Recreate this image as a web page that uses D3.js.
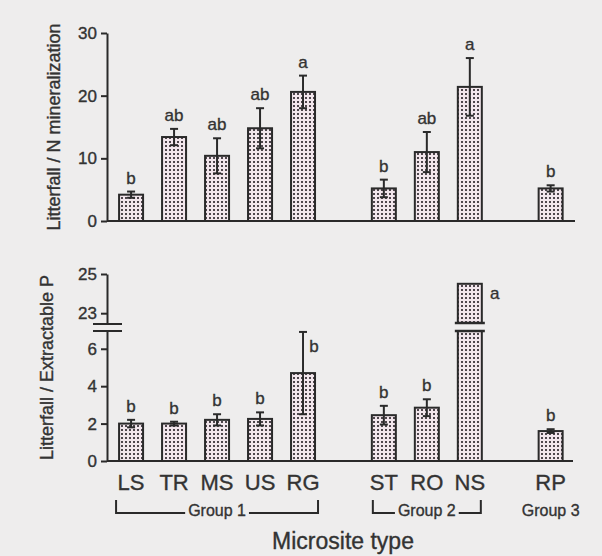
<!DOCTYPE html>
<html>
<head>
<meta charset="utf-8">
<script src="https://cdn.jsdelivr.net/npm/d3@7"></script>
<style>
  body { margin: 0; background: #eeeded; }
  svg { display: block; font-family: "Liberation Sans", Arial, sans-serif; }
  svg text { stroke: #333; stroke-width: 0.35px; }
</style>
</head>
<body>
<svg id="chart" width="602" height="556"></svg>
<script>
// data
var sites      = ["LS", "TR", "MS", "US", "RG", "ST", "RO", "NS", "RP"];
var siteGroup  = [0, 0, 0, 0, 0, 1, 1, 1, 2];
var groupNames = ["Group 1", "Group 2", "Group 3"];

var nRatio   = [4.2, 13.4, 10.4, 14.8, 20.6, 5.2, 11.0, 21.4, 5.2];
var nErr     = [0.5, 1.3, 2.8, 3.2, 2.6, 1.4, 3.2, 4.6, 0.5];
var nLetters = ["b", "ab", "ab", "ab", "a", "b", "ab", "a", "b"];

var pRatio   = [2.0, 2.0, 2.2, 2.25, 4.7, 2.45, 2.85, 24.5, 1.6];
var pErr     = [0.2, 0.1, 0.3, 0.35, 2.2, 0.5, 0.45, 0, 0.1];
var pLetters = ["b", "b", "b", "b", "b", "b", "b", "a", "b"];

var nTicks   = [0, 10, 20, 30];
var pTicksLo = [0, 2, 4, 6];
var pTicksHi = [23, 25];

var ink = "#2a2a2a", txt = "#333";
var svg = d3.select("#chart");

// pattern for the dotted bars
var pat = svg.append("defs").append("pattern")
    .attr("id", "dots").attr("patternUnits", "userSpaceOnUse")
    .attr("width", 4).attr("height", 4);
pat.append("rect").attr("width", 4).attr("height", 4).attr("fill", "#f2e6ec");
pat.append("rect").attr("x", 1).attr("y", 1).attr("width", 2).attr("height", 2).attr("fill", "#4e464c");

var groupGap = 0.88, barW = 24;
function pos(i) { return i + siteGroup[i] * groupGap; }

var x = d3.scaleLinear().domain([-0.56, 10.28]).range([107, 573]);
var rows = sites.map(function(s, i) {
  return {site: s, i: i, cx: x(pos(i)),
          n: nRatio[i], ne: nErr[i], nl: nLetters[i],
          p: pRatio[i], pe: pErr[i], pl: pLetters[i]};
});

function styleAxis(g) {
  g.selectAll("path, line").attr("stroke", ink).attr("stroke-width", 2);
  g.selectAll("text").attr("fill", txt).attr("font-size", 17)
      .attr("font-family", "Liberation Sans, Arial, sans-serif");
}

function errBar(g, cx, y0, y1) {
  g.append("line").attr("x1", cx).attr("x2", cx).attr("y1", y0).attr("y2", y1)
      .attr("stroke", ink).attr("stroke-width", 2);
  [y0, y1].forEach(function(yy) {
    g.append("line").attr("x1", cx - 4).attr("x2", cx + 4).attr("y1", yy).attr("y2", yy)
        .attr("stroke", ink).attr("stroke-width", 2);
  });
}

function letter(g, xx, yy, t) {
  g.append("text").attr("x", xx).attr("y", yy).attr("text-anchor", "middle")
      .attr("font-size", 17).attr("fill", txt).text(t);
}

// ---------- top panel: litterfall / N mineralization ----------
var yN = d3.scaleLinear().domain([0, 30]).range([221, 33]);
var topG = svg.append("g");

topG.append("g").attr("transform", "translate(107,0)")
    .call(d3.axisLeft(yN).tickValues(nTicks).tickSize(6).tickSizeOuter(0).tickPadding(4))
    .call(styleAxis);
topG.append("line").attr("x1", x.range()[0]).attr("x2", x.range()[1] + 2)
    .attr("y1", yN(0)).attr("y2", yN(0)).attr("stroke", ink).attr("stroke-width", 2);

rows.forEach(function(d) {
  topG.append("rect").attr("x", d.cx - barW / 2).attr("y", yN(d.n))
      .attr("width", barW).attr("height", yN(0) - yN(d.n))
      .attr("fill", "url(#dots)").attr("stroke", ink).attr("stroke-width", 2);
  errBar(topG, d.cx, yN(d.n + d.ne), yN(d.n - d.ne));
  letter(topG, d.cx, yN(d.n + d.ne) - 8, d.nl);
});

topG.append("text").attr("transform", "translate(60," + ((yN(0) + yN(30)) / 2) + ") rotate(-90)")
    .attr("text-anchor", "middle").attr("font-size", 18).attr("fill", txt)
    .text("Litterfall / N mineralization");

// ---------- bottom panel: litterfall / extractable P (broken axis) ----------
var yLo = d3.scaleLinear().domain([0, 6.95]).range([461, 331]);
var yHi = d3.scaleLinear().domain([22.5, 25]).range([323, 274]);
var botG = svg.append("g");

botG.append("g").attr("transform", "translate(107,0)")
    .call(d3.axisLeft(yLo).tickValues(pTicksLo).tickFormat(d3.format("d"))
        .tickSize(6).tickSizeOuter(0).tickPadding(4))
    .call(styleAxis);
botG.append("g").attr("transform", "translate(107,0)")
    .call(d3.axisLeft(yHi).tickValues(pTicksHi).tickFormat(d3.format("d"))
        .tickSize(6).tickSizeOuter(0).tickPadding(4))
    .call(styleAxis);
[yHi.range()[0] + 1, yLo.range()[1]].forEach(function(yy) {
  botG.append("line").attr("x1", 93).attr("x2", 122).attr("y1", yy).attr("y2", yy)
      .attr("stroke", ink).attr("stroke-width", 2);
});
botG.append("line").attr("x1", x.range()[0]).attr("x2", x.range()[1])
    .attr("y1", yLo(0)).attr("y2", yLo(0)).attr("stroke", ink).attr("stroke-width", 2);

rows.forEach(function(d) {
  var broken = d.p > yLo.domain()[1];
  var loTop = broken ? yLo.domain()[1] : d.p;
  botG.append("rect").attr("x", d.cx - barW / 2).attr("y", yLo(loTop))
      .attr("width", barW).attr("height", yLo(0) - yLo(loTop))
      .attr("fill", "url(#dots)").attr("stroke", ink).attr("stroke-width", 2);
  if (broken) {
    botG.append("rect").attr("x", d.cx - barW / 2).attr("y", yHi(d.p))
        .attr("width", barW).attr("height", yHi.range()[0] - yHi(d.p))
        .attr("fill", "url(#dots)").attr("stroke", ink).attr("stroke-width", 2);
    [yHi.range()[0], yLo.range()[1]].forEach(function(yy) {
      botG.append("line").attr("x1", d.cx - barW / 2 - 3).attr("x2", d.cx + barW / 2 + 3)
          .attr("y1", yy).attr("y2", yy).attr("stroke", ink).attr("stroke-width", 2.5);
    });
    letter(botG, d.cx + barW / 2 + 13, yHi(d.p) + 15, d.pl);
    return;
  }
  if (d.pe > 0) errBar(botG, d.cx, yLo(d.p + d.pe), yLo(d.p - d.pe));
  if (d.p + d.pe > 6) letter(botG, d.cx + 11, yLo(d.p + d.pe) + 20, d.pl);
  else letter(botG, d.cx, yLo(d.p + d.pe) - 8, d.pl);
});

botG.append("text").attr("transform", "translate(53," + ((yLo(0) + yHi(25)) / 2) + ") rotate(-90)")
    .attr("text-anchor", "middle").attr("font-size", 18).attr("fill", txt)
    .text("Litterfall / Extractable P");

// ---------- category labels, group brackets, axis title ----------
rows.forEach(function(d) {
  svg.append("text").attr("x", d.cx).attr("y", 490).attr("text-anchor", "middle")
      .attr("font-size", 22).attr("fill", txt).text(d.site);
});

groupNames.forEach(function(name, g) {
  var members = rows.filter(function(d) { return siteGroup[d.i] === g; });
  var x0 = members[0].cx, x1 = members[members.length - 1].cx;
  var t = svg.append("text").attr("x", (x0 + x1) / 2).attr("y", 516)
      .attr("text-anchor", "middle").attr("font-size", 16).attr("fill", txt).text(name);
  if (members.length < 2) return;
  var pad = g === 0 ? 15 : 11;
  var left = x0 - pad, right = x1 + pad;
  var tw = t.node().getComputedTextLength(), mid = (x0 + x1) / 2;
  var path = d3.path();
  path.moveTo(left, 500); path.lineTo(left, 513); path.lineTo(mid - tw / 2 - 3, 513);
  path.moveTo(mid + tw / 2 + 3, 513); path.lineTo(right, 513); path.lineTo(right, 500);
  svg.append("path").attr("d", path.toString()).attr("fill", "none")
      .attr("stroke", ink).attr("stroke-width", 2);
});

svg.append("text").attr("x", 343).attr("y", 549).attr("text-anchor", "middle")
    .attr("font-size", 23).attr("fill", txt).text("Microsite type");
</script>
</body>
</html>
